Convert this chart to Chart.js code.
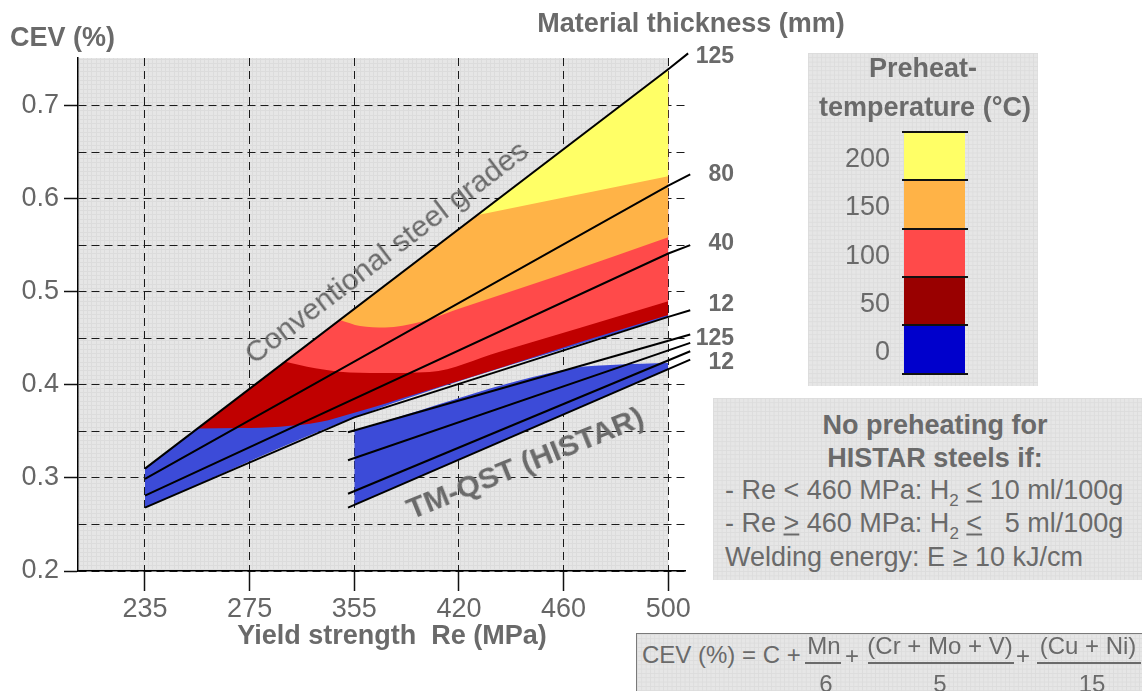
<!DOCTYPE html>
<html>
<head>
<meta charset="utf-8">
<title>Preheat temperature vs CEV</title>
<script src="https://cdn.jsdelivr.net/npm/chart.js@4.4.1/dist/chart.umd.min.js"></script>
<style>
  html, body { margin: 0; padding: 0; background: #fff; }
  body { width: 1142px; height: 691px; position: relative; overflow: hidden;
         font-family: 'Liberation Sans', Arial, Helvetica, sans-serif; color: #6a6a6a; }
  #chart { position: absolute; left: 0; top: 0; }
  .t { position: absolute; white-space: pre; line-height: 1; font-size: 27px; }
  .c { transform: translate(-50%, -50%); }
  .r { transform: translate(-100%, -50%); }
  .l { transform: translate(0, -50%); }
  .b { font-weight: bold; }
  .f { font-size: 24px; }
  .paper { position: absolute; box-sizing: border-box; background-color: #e6e6e6;
    background-image: linear-gradient(#dcdcdc 1px, transparent 1px), linear-gradient(90deg, #dcdcdc 1px, transparent 1px);
    background-size: 4.33px 4.33px; }
  .sub { font-size: 17px; position: relative; top: 7px; }
  .u { text-decoration: underline; }
  .bar { position: absolute; height: 1.5px; background: #6a6a6a; }
  .seg { position: absolute; }
  .sep { position: absolute; height: 2px; background: #111; }
</style>
</head>
<body>
<canvas id="chart" width="1142" height="691"></canvas>

<div class="t b l" style="left:10px;top:37px;">CEV (%)</div>
<div class="t b c" style="left:691px;top:23px;">Material thickness (mm)</div>
<div class="t b c" style="left:392px;top:635px;">Yield strength  Re (MPa)</div>

<div class="t b r" style="left:734px;top:55px;font-size:23px;">125</div>
<div class="t b r" style="left:734px;top:173px;font-size:23px;">80</div>
<div class="t b r" style="left:734px;top:242px;font-size:23px;">40</div>
<div class="t b r" style="left:734px;top:303px;font-size:23px;">12</div>
<div class="t b r" style="left:734px;top:337px;font-size:23px;">125</div>
<div class="t b r" style="left:734px;top:361px;font-size:23px;">12</div>

<div class="t" style="left:386px;top:252px;font-size:30px;transform:translate(-50%,-50%) rotate(-37.3deg);">Conventional steel grades</div>
<div class="t b" style="left:525px;top:463px;font-size:30px;transform:translate(-50%,-50%) rotate(-22deg);">TM-QST (HISTAR)</div>

<div class="paper" style="left:808px;top:53px;width:230px;height:333px;"></div>
<div class="t b c" style="left:923px;top:68px;">Preheat-</div>
<div class="t b c" style="left:925px;top:107px;">temperature (°C)</div>
<div id="legend"></div>

<div class="paper" style="left:713px;top:398px;width:440px;height:182px;"></div>
<div class="t b c" style="left:935px;top:425px;">No preheating for</div>
<div class="t b c" style="left:935px;top:458px;">HISTAR steels if:</div>
<div class="t l" style="left:725px;top:490px;">- Re &lt; 460 MPa: H<span class="sub">2</span> <span class="u">&lt;</span> 10 ml/100g</div>
<div class="t l" style="left:725px;top:523px;">- Re <span class="u">&gt;</span> 460 MPa: H<span class="sub">2</span> <span class="u">&lt;</span>   5 ml/100g</div>
<div class="t l" style="left:725px;top:557px;">Welding energy: E ≥ 10 kJ/cm</div>

<div class="paper" style="left:636px;top:633px;width:520px;height:80px;border:1.5px solid #7a7a7a;"></div>
<div class="t f l" style="left:642px;top:655px;">CEV (%) = C +</div>
<div class="t f c" style="left:824px;top:646px;">Mn</div>
<div class="bar" style="left:805px;top:662px;width:36px;"></div>
<div class="t f c" style="left:826px;top:684px;">6</div>
<div class="t f c" style="left:852px;top:656px;">+</div>
<div class="t f c" style="left:940px;top:646px;">(Cr + Mo + V)</div>
<div class="bar" style="left:868px;top:662px;width:146px;"></div>
<div class="t f c" style="left:940px;top:684px;">5</div>
<div class="t f c" style="left:1023px;top:656px;">+</div>
<div class="t f c" style="left:1088px;top:646px;">(Cu + Ni)</div>
<div class="bar" style="left:1037px;top:662px;width:104px;"></div>
<div class="t f c" style="left:1092px;top:684px;">15</div>

<script>
// x positions are grade indices (the yield strength axis is not to scale)
const grades = ['235', '275', '355', '420', '460', '500'];
const cevTicks = [0.2, 0.25, 0.3, 0.35, 0.4, 0.45, 0.5, 0.55, 0.6, 0.65, 0.7];

// thickness lines, conventional steels: [grade index, CEV]
const conv125 = [[0, 0.310], [5, 0.739], [5.19, 0.756]];
const conv80 = [[0, 0.299], [5, 0.614], [5.21, 0.626]];
const conv40 = [[0, 0.281], [5, 0.541], [5.21, 0.550]];
const conv12 = [[0, 0.268], [2, 0.365], [5, 0.473], [5.21, 0.480]];

// thickness lines, TM-QST (HISTAR)
const histar125 = [[1.94, 0.349], [5.21, 0.454]];
const histar80 = [[1.94, 0.319], [5.21, 0.445]];
const histar40 = [[1.94, 0.283], [5.21, 0.436]];
const histar12 = [[1.94, 0.268], [5.21, 0.427]];

// lower edge of each preheat zone (upper edge is the 125 mm line)
const zone200 = [[3.17, 0.582], [5, 0.624]];
const zone150 = [[1.864, 0.4697], [2.055, 0.4632], [2.294, 0.4616], [2.629, 0.4675], [2.964, 0.4804], [3.967, 0.518], [5, 0.5585]];
const zone100 = [[1.34, 0.4248], [1.55, 0.4194], [1.86, 0.4141], [2.25, 0.4127], [2.72, 0.4138], [3.39, 0.4355], [4.16, 0.4613], [5, 0.4896]];
const zone50 = [[0.5, 0.353], [0.91, 0.3535], [1.29, 0.355], [1.67, 0.360], [2.0, 0.370], [2.63, 0.3915], [3.39, 0.418], [4.16, 0.446], [5, 0.475]];
const zone0 = [[0, 0.268], [2, 0.365], [5, 0.473]];
// upper edge of the HISTAR 0 °C zone (lower edge is its 12 mm line)
const histarZone = [[2, 0.351], [4.1, 0.418], [4.5, 0.4216], [5, 0.4234]];

const preheatTemps = [200, 150, 100, 50, 0];
const zoneColors = ['#FFFF66', '#FFB347', '#FF4A4A', '#C00000', '#3C4BD8'];
const legendColors = ['#FFFF66', '#FFB347', '#FF4A4A', '#990000', '#0000CC'];

function toXY(pts) {
  return pts.map(p => ({ x: p[0], y: p[1] }));
}

function zoneSet(pts, color, target) {
  return {
    data: toXY(pts),
    borderColor: 'rgba(0,0,0,0)',
    borderWidth: 0,
    backgroundColor: color,
    pointRadius: 0,
    cubicInterpolationMode: 'monotone',
    fill: { target: target, above: color, below: color }
  };
}

function lineSet(pts) {
  return {
    data: toXY(pts),
    borderColor: '#000',
    borderWidth: 2,
    pointRadius: 0,
    fill: false,
    clip: false
  };
}

const LINE125 = 6, HISTAR12 = 13;
const datasets = [
  zoneSet(zone200, zoneColors[0], LINE125),
  zoneSet(zone150, zoneColors[1], LINE125),
  zoneSet(zone100, zoneColors[2], LINE125),
  zoneSet(zone50, zoneColors[3], LINE125),
  zoneSet(zone0, zoneColors[4], LINE125),
  zoneSet(histarZone, zoneColors[4], HISTAR12),
  lineSet(conv125),
  lineSet(conv80),
  lineSet(conv40),
  lineSet(conv12),
  lineSet(histar125),
  lineSet(histar80),
  lineSet(histar40),
  lineSet(histar12)
];

function isLabeled(v) {
  return Math.abs(v * 10 - Math.round(v * 10)) < 1e-6;
}

// grey graph-paper background behind the plot
const plotPaper = {
  id: 'plotPaper',
  beforeDraw(chart) {
    const { ctx, chartArea, scales } = chart;
    const left = chartArea.left, top = chartArea.top, bottom = chartArea.bottom;
    const right = scales.x.getPixelForValue(grades.length - 1);
    ctx.save();
    ctx.fillStyle = '#e6e6e6';
    ctx.fillRect(left, top, right - left, bottom - top);
    ctx.strokeStyle = '#dcdcdc';
    ctx.lineWidth = 1;
    ctx.beginPath();
    for (let x = left + 0.5; x < right; x += 4.33) {
      ctx.moveTo(Math.round(x) + 0.5, top);
      ctx.lineTo(Math.round(x) + 0.5, bottom);
    }
    for (let y = top + 0.5; y < bottom; y += 4.33) {
      ctx.moveTo(left, Math.round(y) + 0.5);
      ctx.lineTo(right, Math.round(y) + 0.5);
    }
    ctx.stroke();
    ctx.restore();
  }
};

Chart.defaults.font.family = "'Liberation Sans', Arial, sans-serif";

new Chart(document.getElementById('chart'), {
  type: 'line',
  data: { datasets: datasets },
  options: {
    responsive: false,
    animation: false,
    devicePixelRatio: 1,
    layout: { padding: { left: 0, top: 58, right: 457, bottom: 0 } },
    plugins: {
      legend: { display: false },
      tooltip: { enabled: false },
      filler: { drawTime: 'beforeDatasetsDraw' }
    },
    scales: {
      x: {
        type: 'linear',
        min: -0.64,
        max: 5.16,
        afterBuildTicks: s => { s.ticks = grades.map((g, i) => ({ value: i })); },
        afterFit: s => { s.height = 120; },
        ticks: {
          callback: v => grades[v],
          color: '#666',
          font: { size: 27 },
          padding: 2,
          maxRotation: 0,
          autoSkip: false
        },
        grid: {
          color: '#1a1a1a',
          lineWidth: 1,
          borderDash: [8, 5],
          tickLength: 20,
          tickColor: '#111',
          tickWidth: 1.5,
          tickBorderDash: []
        },
        border: { display: true, color: '#000', width: 1.5, dash: [8, 5] }
      },
      y: {
        type: 'linear',
        min: 0.2,
        max: 0.751,
        afterBuildTicks: s => { s.ticks = cevTicks.map(v => ({ value: v })); },
        afterFit: s => { s.width = 78; },
        ticks: {
          callback: v => isLabeled(v) ? v.toFixed(1) : '',
          color: '#666',
          font: { size: 27 },
          padding: 5
        },
        grid: {
          color: '#1a1a1a',
          lineWidth: 1,
          borderDash: [8, 5],
          tickLength: 14,
          tickColor: c => (c.tick && isLabeled(c.tick.value)) ? '#111' : 'rgba(0,0,0,0)',
          tickWidth: 1.5,
          tickBorderDash: []
        },
        border: { display: true, color: '#000', width: 1.5, dash: [8, 5] }
      }
    }
  },
  plugins: [plotPaper]
});

// colour scale legend for preheat temperatures
const legend = document.getElementById('legend');
const barTop = 132, segH = 48.3, barLeft = 904, barW = 61;
preheatTemps.forEach((temp, i) => {
  const seg = document.createElement('div');
  seg.className = 'seg';
  seg.style.cssText = `left:${barLeft}px;top:${barTop + i * segH}px;width:${barW}px;height:${segH}px;background:${legendColors[i]};`;
  legend.appendChild(seg);

  const lab = document.createElement('div');
  lab.className = 't r';
  lab.style.cssText = `left:890px;top:${barTop + i * segH + segH / 2 + 2}px;`;
  lab.textContent = temp;
  legend.appendChild(lab);
});
for (let i = 0; i <= preheatTemps.length; i++) {
  const sep = document.createElement('div');
  sep.className = 'sep';
  sep.style.cssText = `left:${barLeft - 2}px;top:${barTop + i * segH - 1}px;width:${barW + 5}px;`;
  legend.appendChild(sep);
}
</script>
</body>
</html>
